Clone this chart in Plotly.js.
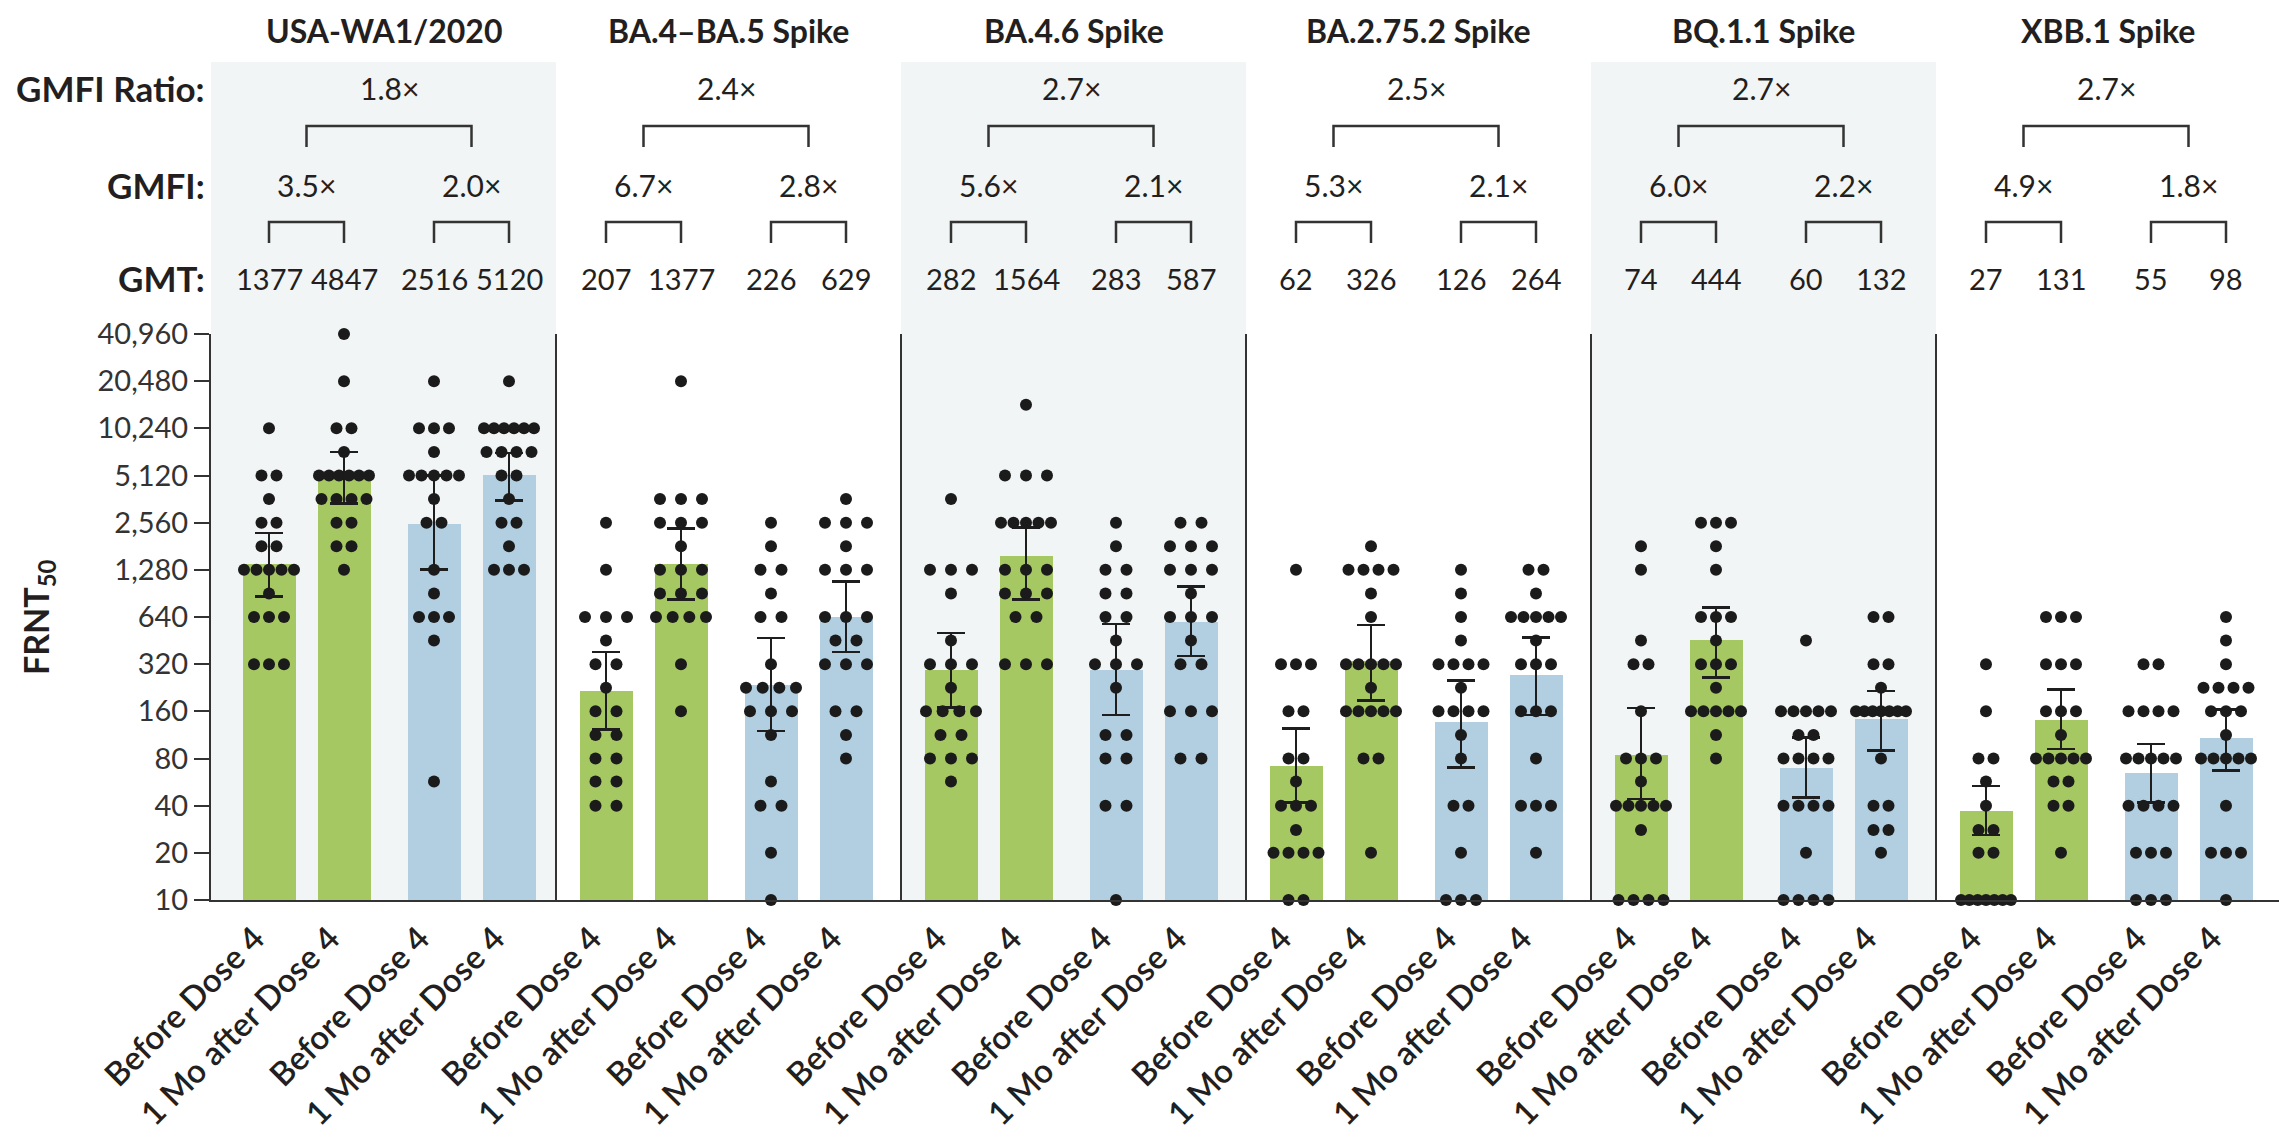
<!DOCTYPE html>
<html><head><meta charset="utf-8">
<script src="https://cdn.plot.ly/plotly-3.0.1.min.js"></script>
<style>html,body{margin:0;padding:0;background:#fff;} #chart{width:2279px;height:1141px;}</style>
</head><body><div id="chart"></div>
<script>
// ---------- DATA ----------
const variants = ["USA-WA1/2020", "BA.4–BA.5 Spike", "BA.4.6 Spike", "BA.2.75.2 Spike", "BQ.1.1 Spike", "XBB.1 Spike"];
const timepoints = ["Before Dose 4", "1 Mo after Dose 4", "Before Dose 4", "1 Mo after Dose 4"];
const gmfiRatio = ["1.8×", "2.4×", "2.7×", "2.5×", "2.7×", "2.7×"];
const gmfiLeft = ["3.5×", "6.7×", "5.6×", "5.3×", "6.0×", "4.9×"];
const gmfiRight = ["2.0×", "2.8×", "2.1×", "2.1×", "2.2×", "1.8×"];
const gmt = [1377, 4847, 2516, 5120, 207, 1377, 226, 629, 282, 1564, 283, 587, 62, 326, 126, 264, 74, 444, 60, 132, 27, 131, 55, 98];
const ciUpper = [2195, 7240, 5120, 7130, 372, 2340, 459, 1068, 496, 2380, 568, 992, 114, 558, 242, 462, 158, 729, 99, 206, 43.5, 210, 89, 154];
const ciLower = [858, 3385, 1280, 3550, 113, 815, 110, 372, 160, 815, 142, 350, 32, 178, 60, 142, 34, 253, 35, 80, 16, 82, 32, 57];
const yTicks = [10, 20, 40, 80, 160, 320, 640, 1280, 2560, 5120, 10240, 20480, 40960];
const yTickText = ["10", "20", "40", "80", "160", "320", "640", "1,280", "2,560", "5,120", "10,240", "20,480", "40,960"];

const wa1BeforeG = [10240,5120,5120,3620,2560,2560,1810,1810,1280,1280,1280,1280,1280,905,640,640,640,320,320,320];
const wa1AfterG  = [40960,20480,10240,10240,7240,5120,5120,5120,5120,5120,5120,3620,3620,3620,3620,2560,2560,1810,1810,1280];
const wa1BeforeB = [20480,10240,10240,10240,7240,5120,5120,5120,5120,5120,3620,2560,2560,1280,905,640,640,640,453,57];
const wa1AfterB  = [20480,10240,10240,10240,10240,10240,10240,7240,7240,7240,7240,5120,5120,3620,2560,2560,1810,1280,1280,1280];

const ba45BeforeG = [2560,1280,640,640,640,453,320,320,226,160,160,113,113,80,80,57,57,40,40];
const ba45AfterG  = [20480,3620,3620,3620,2560,2560,2560,1810,1280,1280,1280,905,905,905,640,640,640,640,320,160];
const ba45BeforeB = [2560,1810,1280,1280,905,640,640,320,226,226,226,226,160,160,160,113,57,40,40,20,10];
const ba45AfterB  = [3620,2560,2560,2560,1810,1280,1280,1280,640,640,640,453,453,320,320,320,160,160,113,80];

const ba46BeforeG = [3620,1280,1280,1280,905,453,320,320,320,226,160,160,160,160,113,113,80,80,80,57];
const ba46AfterG  = [14480,5120,5120,5120,2560,2560,2560,2560,2560,1280,1280,1280,905,905,905,640,640,320,320,320];
const ba46BeforeB = [2560,1810,1280,1280,905,905,640,640,453,320,320,320,226,113,113,80,80,40,40,10];
const ba46AfterB  = [2560,2560,1810,1810,1810,1280,1280,1280,905,640,640,640,453,320,320,160,160,160,80,80];

const ba2752BeforeG = [1280,320,320,320,160,160,80,80,57,40,40,40,28,20,20,20,20,10,10];
const ba2752AfterG  = [1810,1280,1280,1280,1280,905,640,320,320,320,320,320,226,160,160,160,160,160,80,80,20];
const ba2752BeforeB = [1280,905,640,453,320,320,320,320,226,160,160,160,160,113,80,40,40,20,10,10,10];
const ba2752AfterB  = [1280,1280,905,640,640,640,640,640,453,320,320,320,160,160,160,80,40,40,40,20];

const bq11BeforeG = [1810,1280,453,320,320,160,80,80,80,57,40,40,40,40,40,28,10,10,10,10];
const bq11AfterG  = [2560,2560,2560,1810,1280,640,640,640,453,320,320,320,226,160,160,160,160,160,113,80];
const bq11BeforeB = [453,160,160,160,160,160,113,113,80,80,80,80,40,40,40,40,20,10,10,10,10];
const bq11AfterB  = [640,640,320,320,226,160,160,160,160,160,160,160,80,40,40,28,28,20];

const xbb1BeforeG = [320,160,80,80,57,40,28,28,20,20,10,10,10,10,10,10,10];
const xbb1AfterG  = [640,640,640,320,320,320,160,160,160,113,80,80,80,80,80,57,57,40,40,20];
const xbb1BeforeB = [320,320,160,160,160,160,80,80,80,80,80,40,40,40,40,20,20,20,10,10,10];
const xbb1AfterB  = [640,453,320,226,226,226,226,160,160,160,113,80,80,80,80,80,40,20,20,20,10];

const dotSets = [wa1BeforeG, wa1AfterG, wa1BeforeB, wa1AfterB,
  ba45BeforeG, ba45AfterG, ba45BeforeB, ba45AfterB,
  ba46BeforeG, ba46AfterG, ba46BeforeB, ba46AfterB,
  ba2752BeforeG, ba2752AfterG, ba2752BeforeB, ba2752AfterB,
  bq11BeforeG, bq11AfterG, bq11BeforeB, bq11AfterB,
  xbb1BeforeG, xbb1AfterG, xbb1BeforeB, xbb1AfterB];

// ---------- LAYOUT HELPERS ----------
const W = 2279, H = 1141, PL = 211, PR = 2279, PT = 334, PB = 900;
const X = px => (px - PL) / (PR - PL);
const Y = py => (PB - py) / (PB - PT);
const GREEN = "#a6c862", BLUE = "#b1cfe1", SHADE = "#f2f5f5", INK = "#231f20", LINE = "#333333";
const FONT = "Lato, 'Open Sans', 'Noto Sans', sans-serif";
const sepX = [211, 556, 901, 1246, 1591, 1936, 2279];
const barOffsets = [50, 125, 215, 290];
const maxGap = [15, 21, 21, 15, 15, 15];

const barX = [];
for (let p = 0; p < 6; p++) {
  const left = p === 0 ? sepX[0] + 8 : sepX[p];
  for (let j = 0; j < 4; j++) barX.push(left + barOffsets[j]);
}
const barColors = barX.map((_, i) => (i % 4 < 2 ? GREEN : BLUE));

// dot positions: rows of equal values spread horizontally around the bar centre
const dotX = [], dotY = [];
dotSets.forEach((vals, i) => {
  const p = Math.floor(i / 4);
  const counts = new Map();
  vals.forEach(v => counts.set(v, (counts.get(v) || 0) + 1));
  counts.forEach((n, v) => {
    const gap = n > 1 ? Math.min(maxGap[p], 50 / (n - 1)) : 0;
    for (let k = 0; k < n; k++) {
      dotX.push(barX[i] + (k - (n - 1) / 2) * gap);
      dotY.push(v);
    }
  });
});

const bars = {
  type: "bar", x: barX, y: gmt, base: 10, width: 53,
  marker: { color: barColors, line: { width: 0 } },
  error_y: {
    type: "data", symmetric: false,
    array: gmt.map((g, i) => ciUpper[i] - g),
    arrayminus: gmt.map((g, i) => g - ciLower[i]),
    color: "#1e1e1e", thickness: 2.6, width: 14
  },
  hoverinfo: "skip", showlegend: false
};
const dots = {
  type: "scatter", mode: "markers", x: dotX, y: dotY, cliponaxis: false,
  marker: { size: 12, color: "#1b1b1b", line: { width: 0 } },
  hoverinfo: "skip", showlegend: false
};

const shapes = [];
[0, 2, 4].forEach(p => shapes.push({
  type: "rect", xref: "paper", yref: "paper", layer: "below",
  x0: X(sepX[p]), x1: X(sepX[p + 1]), y0: 0, y1: Y(62),
  fillcolor: SHADE, line: { width: 0 }
}));
for (let p = 1; p < 6; p++) shapes.push({
  type: "line", xref: "x", yref: "paper", x0: sepX[p], x1: sepX[p], y0: 0, y1: 1,
  line: { color: LINE, width: 2 }
});
const bracket = (xa, xb, top, bot) => ({
  type: "path", xref: "paper", yref: "paper",
  path: `M ${X(xa)} ${Y(bot)} L ${X(xa)} ${Y(top)} L ${X(xb)} ${Y(top)} L ${X(xb)} ${Y(bot)}`,
  line: { color: LINE, width: 2.5 }
});

const annotations = [];
const ann = (o) => annotations.push(Object.assign({ showarrow: false, xanchor: "center", yanchor: "middle" }, o));
for (let p = 0; p < 6; p++) {
  const b = barX.slice(p * 4, p * 4 + 4);
  const m12 = (b[0] + b[1]) / 2, m34 = (b[2] + b[3]) / 2;
  const centre = (sepX[p] + sepX[p + 1]) / 2;
  ann({ xref: "x", yref: "paper", x: centre, y: Y(30), text: variants[p],
        font: { family: FONT, size: 32, color: INK, weight: 700 } });
  ann({ xref: "x", yref: "paper", x: (m12 + m34) / 2, y: Y(88), text: gmfiRatio[p],
        font: { family: FONT, size: 30, color: INK } });
  shapes.push(bracket(m12, m34, 126, 147));
  ann({ xref: "x", yref: "paper", x: m12, y: Y(185), text: gmfiLeft[p], font: { family: FONT, size: 30, color: INK } });
  ann({ xref: "x", yref: "paper", x: m34, y: Y(185), text: gmfiRight[p], font: { family: FONT, size: 30, color: INK } });
  shapes.push(bracket(b[0], b[1], 222, 243));
  shapes.push(bracket(b[2], b[3], 222, 243));
  for (let j = 0; j < 4; j++) {
    ann({ xref: "x", yref: "paper", x: b[j], y: Y(278), text: String(gmt[p * 4 + j]),
          font: { family: FONT, size: 29, color: INK } });
  }
}
[["GMFI Ratio:", 88], ["GMFI:", 185], ["GMT:", 278]].forEach(([t, py]) => ann({
  xref: "paper", yref: "paper", x: X(207), y: Y(py), xanchor: "right", text: t,
  font: { family: FONT, size: 35, color: INK, weight: 700 }
}));
ann({ xref: "paper", yref: "paper", x: X(38), y: 0.5, textangle: -90, text: "FRNT<sub>50</sub>",
      font: { family: FONT, size: 34, color: INK, weight: 700 } });

const layout = {
  width: W, height: H,
  margin: { l: PL, r: W - PR, t: PT, b: H - PB, pad: 0 },
  paper_bgcolor: "#ffffff", plot_bgcolor: "rgba(0,0,0,0)",
  showlegend: false, bargap: 0,
  xaxis: {
    range: [PL, PR], tickmode: "array", tickvals: barX,
    ticktext: barX.map((_, i) => timepoints[i % 4]),
    tickangle: -45, ticks: "", showgrid: false, zeroline: false,
    ticklabelshift: -14, ticklabelstandoff: 4,
    showline: true, linecolor: LINE, linewidth: 2,
    tickfont: { family: FONT, size: 33, color: INK, weight: 600 }
  },
  yaxis: {
    type: "log", range: [Math.log10(10), Math.log10(40960)],
    tickmode: "array", tickvals: yTicks, ticktext: yTickText,
    ticks: "outside", ticklen: 15, tickwidth: 2, tickcolor: LINE,
    showgrid: false, zeroline: false, showline: true, linecolor: LINE, linewidth: 2,
    tickfont: { family: FONT, size: 29, color: "#333" }
  },
  shapes: shapes, annotations: annotations
};

Plotly.newPlot("chart", [bars, dots], layout, { staticPlot: true, displayModeBar: false });
</script></body></html>
